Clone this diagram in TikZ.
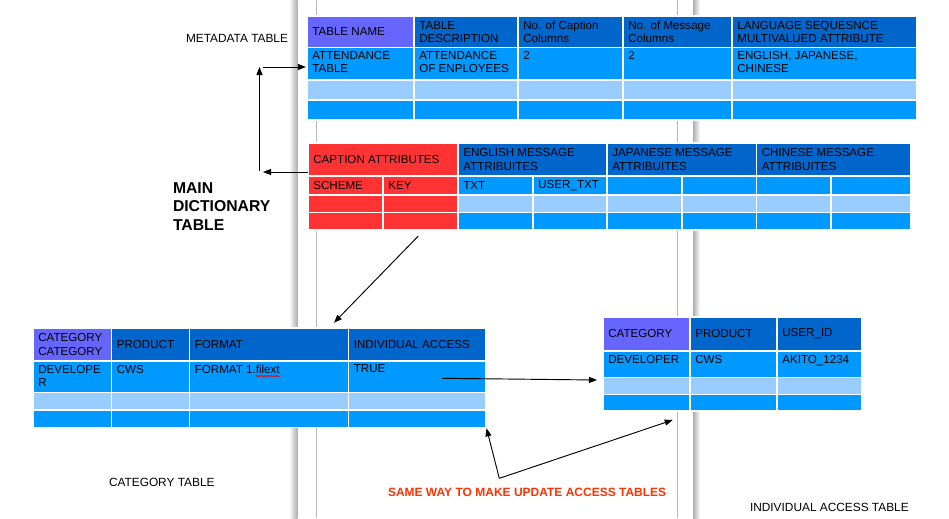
\documentclass[tikz,border=0pt]{standalone}
\usepackage{fontspec}
\setmainfont{Liberation Sans}
\usetikzlibrary{arrows.meta,decorations.pathmorphing}

\definecolor{hdrviolet}{HTML}{6666FF}
\definecolor{hdrblue}{HTML}{0066CC}
\definecolor{rowblue}{HTML}{0099FF}
\definecolor{rowlight}{HTML}{99CCFF}
\definecolor{capred}{HTML}{FF3333}
\definecolor{notered}{HTML}{FF3300}

\tikzset{
  cellbg/.style={rectangle, draw=white, line width=1.1pt, inner sep=0pt, outer sep=0pt},
  celltxt/.style={inner sep=0pt, outer sep=0pt, align=left, text=black,
    font=\fontsize{8.7}{10}\selectfont},
  plainlabel/.style={inner sep=0pt, outer sep=0pt, align=left,
    font=\fontsize{8.9}{10}\selectfont},
  biglabel/.style={inner sep=0pt, outer sep=0pt, align=left,
    font=\fontsize{11.8}{13.9}\selectfont\bfseries},
  notelabel/.style={inner sep=0pt, outer sep=0pt, text=notered,
    font=\fontsize{9}{10}\selectfont\bfseries},
  arr/.style={-{Triangle[length=6pt,width=4.5pt]}, line width=0.7pt, black},
  pageedge/.style={black!28, line width=0.6pt},
  squiggle/.style={red, line width=0.55pt, decorate,
    decoration={zigzag, amplitude=0.6pt, segment length=2.2pt}},
}

% one table cell: name, x1, y1, x2, y2, fill
\newcommand\tcell[6]{\node[cellbg, fill=#6, minimum width={(#4-#2)*0.75pt},
  minimum height={(#5-#3)*0.75pt}, anchor=north west] (#1) at (#2,#3) {};}
% header text, vertically centred
\newcommand\htxt[2]{\node[celltxt, anchor=west] (#1-t) at ([xshift=4pt]#1.west) {#2};}
% data text, top aligned
\newcommand\dtxt[2]{\node[celltxt, anchor=north west] (#1-t) at ([shift={(4pt,-3pt)}]#1.north west) {#2};}

\begin{document}
\begin{tikzpicture}[x=0.75pt,y=-0.75pt]
\useasboundingbox (0,0) rectangle (949,518);
\fill[white] (0,0) rectangle (949,518);

% page edges of the drawing sheet
\shade[left color=white, right color=black!32] (289,0) rectangle (297.5,518);
\draw[pageedge] (316,0) -- (316,518);
\draw[pageedge] (677,0) -- (677,518);
\shade[left color=black!32, right color=white] (693,0) rectangle (700,518);

% ---------------- metadata table ----------------
\tcell{M00}{307}{16}{414}{47.5}{hdrviolet}
\tcell{M01}{414}{16}{518}{47.5}{hdrblue}
\tcell{M02}{518}{16}{623}{47.5}{hdrblue}
\tcell{M03}{623}{16}{732}{47.5}{hdrblue}
\tcell{M04}{732}{16}{917}{47.5}{hdrblue}
\tcell{M10}{307}{47.5}{414}{80}{rowblue}
\tcell{M11}{414}{47.5}{518}{80}{rowblue}
\tcell{M12}{518}{47.5}{623}{80}{rowblue}
\tcell{M13}{623}{47.5}{732}{80}{rowblue}
\tcell{M14}{732}{47.5}{917}{80}{rowblue}
\tcell{M20}{307}{80}{414}{100}{rowlight}
\tcell{M21}{414}{80}{518}{100}{rowlight}
\tcell{M22}{518}{80}{623}{100}{rowlight}
\tcell{M23}{623}{80}{732}{100}{rowlight}
\tcell{M24}{732}{80}{917}{100}{rowlight}
\tcell{M30}{307}{100}{414}{120}{rowblue}
\tcell{M31}{414}{100}{518}{120}{rowblue}
\tcell{M32}{518}{100}{623}{120}{rowblue}
\tcell{M33}{623}{100}{732}{120}{rowblue}
\tcell{M34}{732}{100}{917}{120}{rowblue}
\htxt{M00}{TABLE NAME}
\htxt{M01}{TABLE\\DESCRIPTION}
\htxt{M02}{No. of Caption\\Columns}
\htxt{M03}{No. of Message\\Columns}
\htxt{M04}{LANGUAGE SEQUESNCE\\MULTIVALUED ATTRIBUTE}
\dtxt{M10}{ATTENDANCE\\TABLE}
\dtxt{M11}{ATTENDANCE\\OF ENPLOYEES}
\dtxt{M12}{2}
\dtxt{M13}{2}
\dtxt{M14}{ENGLISH, JAPANESE,\\CHINESE}

% ---------------- main dictionary table ----------------
\tcell{Dcap}{308}{143}{458}{176}{capred}
\tcell{Deng}{458}{143}{607}{176}{hdrblue}
\tcell{Djap}{607}{143}{756.5}{176}{hdrblue}
\tcell{Dchi}{756.5}{143}{911}{176}{hdrblue}
\tcell{D10}{308}{176}{383}{195}{capred}
\tcell{D11}{383}{176}{458}{195}{capred}
\tcell{D12}{458}{176}{533}{195}{rowblue}
\tcell{D13}{533}{176}{607}{195}{rowblue}
\tcell{D14}{607}{176}{682}{195}{rowblue}
\tcell{D15}{682}{176}{756.5}{195}{rowblue}
\tcell{D16}{756.5}{176}{831}{195}{rowblue}
\tcell{D17}{831}{176}{911}{195}{rowblue}
\tcell{D20}{308}{195}{383}{212.5}{capred}
\tcell{D21}{383}{195}{458}{212.5}{capred}
\tcell{D22}{458}{195}{533}{212.5}{rowlight}
\tcell{D23}{533}{195}{607}{212.5}{rowlight}
\tcell{D24}{607}{195}{682}{212.5}{rowlight}
\tcell{D25}{682}{195}{756.5}{212.5}{rowlight}
\tcell{D26}{756.5}{195}{831}{212.5}{rowlight}
\tcell{D27}{831}{195}{911}{212.5}{rowlight}
\tcell{D30}{308}{212.5}{383}{230}{capred}
\tcell{D31}{383}{212.5}{458}{230}{capred}
\tcell{D32}{458}{212.5}{533}{230}{rowblue}
\tcell{D33}{533}{212.5}{607}{230}{rowblue}
\tcell{D34}{607}{212.5}{682}{230}{rowblue}
\tcell{D35}{682}{212.5}{756.5}{230}{rowblue}
\tcell{D36}{756.5}{212.5}{831}{230}{rowblue}
\tcell{D37}{831}{212.5}{911}{230}{rowblue}
\htxt{Dcap}{CAPTION ATTRIBUTES}
\htxt{Deng}{ENGLISH MESSAGE\\ATTRIBUITES}
\htxt{Djap}{JAPANESE MESSAGE\\ATTRIBUITES}
\htxt{Dchi}{CHINESE MESSAGE\\ATTRIBUITES}
\htxt{D10}{SCHEME}
\htxt{D11}{KEY}
\htxt{D12}{TXT}
\htxt{D13}{USER\_TXT}

% ---------------- category table ----------------
\tcell{C00}{33}{328}{111.5}{361}{hdrviolet}
\tcell{C01}{111.5}{328}{189.5}{361}{hdrblue}
\tcell{C02}{189.5}{328}{348.5}{361}{hdrblue}
\tcell{C03}{348.5}{328}{486}{361}{hdrblue}
\tcell{C10}{33}{361}{111.5}{392.5}{rowblue}
\tcell{C11}{111.5}{361}{189.5}{392.5}{rowblue}
\tcell{C12}{189.5}{361}{348.5}{392.5}{rowblue}
\tcell{C13}{348.5}{361}{486}{392.5}{rowblue}
\tcell{C20}{33}{392.5}{111.5}{410}{rowlight}
\tcell{C21}{111.5}{392.5}{189.5}{410}{rowlight}
\tcell{C22}{189.5}{392.5}{348.5}{410}{rowlight}
\tcell{C23}{348.5}{392.5}{486}{410}{rowlight}
\tcell{C30}{33}{410}{111.5}{427.5}{rowblue}
\tcell{C31}{111.5}{410}{189.5}{427.5}{rowblue}
\tcell{C32}{189.5}{410}{348.5}{427.5}{rowblue}
\tcell{C33}{348.5}{410}{486}{427.5}{rowblue}
\htxt{C00}{CATEGORY\\CATEGORY}
\htxt{C01}{PRODUCT}
\htxt{C02}{FORMAT}
\htxt{C03}{INDIVIDUAL ACCESS}
\dtxt{C10}{DEVELOPE\\R}
\dtxt{C11}{CWS}
\dtxt{C12}{FORMAT 1.filext}
\dtxt{C13}{TRUE}
% spell-check squiggle under the file extension
\draw[squiggle]
  ([shift={(-18pt,-2pt)}]C12-t.base east) -- ([yshift=-2pt]C12-t.base east);

% ---------------- individual access table ----------------
\tcell{I00}{603}{317}{690}{351}{hdrviolet}
\tcell{I01}{690}{317}{777}{351}{hdrblue}
\tcell{I02}{777}{317}{862}{351}{hdrblue}
\tcell{I10}{603}{351}{690}{377.5}{rowblue}
\tcell{I11}{690}{351}{777}{377.5}{rowblue}
\tcell{I12}{777}{351}{862}{377.5}{rowblue}
\tcell{I20}{603}{377.5}{690}{394.5}{rowlight}
\tcell{I21}{690}{377.5}{777}{394.5}{rowlight}
\tcell{I22}{777}{377.5}{862}{394.5}{rowlight}
\tcell{I30}{603}{394.5}{690}{411}{rowblue}
\tcell{I31}{690}{394.5}{777}{411}{rowblue}
\tcell{I32}{777}{394.5}{862}{411}{rowblue}
\htxt{I00}{CATEGORY}
\htxt{I01}{PRODUCT}
\htxt{I02}{USER\_ID}
\dtxt{I10}{DEVELOPER}
\dtxt{I11}{CWS}
\dtxt{I12}{AKITO\_1234}

% ---------------- labels ----------------
\node[plainlabel, anchor=west] (lmeta) at (186,38) {METADATA TABLE};
\node[biglabel, anchor=north west] (lmain) at (173,182.5) {MAIN\\DICTIONARY\\TABLE};
\node[plainlabel, anchor=west] (lcat) at (109,482) {CATEGORY TABLE};
\node[plainlabel, anchor=west] (lind) at (750,507) {INDIVIDUAL ACCESS TABLE};
\node[notelabel, anchor=west] (lnote) at (388,492) {SAME WAY TO MAKE UPDATE ACCESS TABLES};

% ---------------- connectors ----------------
\coordinate (capback) at (263,172);
\coordinate (riseb) at (259.5,171);
\coordinate (riset) at (259.5,67);
\coordinate (metaback) at (263,67);
\draw[arr] (Dcap.west |- capback) -- (capback);
\draw[arr] (riseb) -- (riset);
\draw[arr] (metaback) -- ([xshift=-0.8pt]M10.west |- metaback);

\coordinate (diagfrom) at (418.3,236);
\coordinate (diagto) at (334,322.7);
\draw[arr] (diagfrom) -- (diagto);

\coordinate (truefrom) at (442,378.3);
\coordinate (trueto) at (597,380);
\draw[arr] (truefrom) -- (trueto);

\coordinate (fork) at (499.3,478.3);
\coordinate (forkcat) at (486.5,428.3);
\coordinate (forkind) at (672.7,420);
\draw[arr] (fork) -- (forkcat);
\draw[arr] (fork) -- (forkind);
\end{tikzpicture}
\end{document}
